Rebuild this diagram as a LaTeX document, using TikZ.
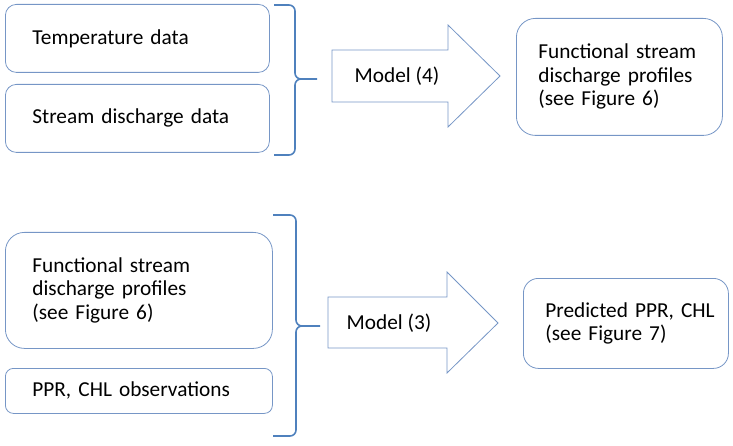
\documentclass[tikz,border=0pt]{standalone}
\usepackage{fontspec}
\setmainfont{Carlito}
\definecolor{boxblue}{RGB}{118,150,198}
\definecolor{braceblue}{RGB}{79,129,189}
\tikzset{
  databox/.style={draw=boxblue, line width=0.8pt, rounded corners=#1, align=left,
    font=\fontsize{21.3pt}{23.5pt}\selectfont, anchor=north west, inner ysep=0pt},
  bigarrow/.style={draw=boxblue, line width=0.8pt, line join=miter},
  brace/.style={draw=braceblue, line width=1.6pt},
  lbl/.style={font=\fontsize{21.3pt}{23.5pt}\selectfont, inner sep=0pt}
}
\begin{document}
\begin{tikzpicture}
    \useasboundingbox (0pt,0pt) rectangle (733pt,-446pt);
    % inputs of model (4)
    \node[databox=11pt, inner xsep=27pt, text width=210pt, minimum height=68pt] (temp)
        at (5pt,-4pt) {Temperature data};
    \node[databox=11pt, inner xsep=27pt, text width=210pt, minimum height=68pt] (disch)
        at (5pt,-84pt) {Stream discharge data};
    \draw[brace] (274pt,-5pt) -- (289pt,-5pt) to[out=0,in=90] (295pt,-11pt) -- (295pt,-73pt)
        to[out=-90,in=180] (301pt,-79pt) -- (317pt,-79pt);
    \draw[brace] (301pt,-79pt) to[out=180,in=90] (295pt,-85pt) -- (295pt,-149pt)
        to[out=-90,in=0] (289pt,-155pt) -- (274pt,-155pt);
    \draw[bigarrow] (332pt,-50pt) -- (448pt,-50pt) -- (448pt,-25pt) -- (500pt,-76pt)
        -- (448pt,-127pt) -- (448pt,-102pt) -- (332pt,-102pt) -- cycle;
    \node[lbl] (model4) at (397pt,-76pt) {Model (4)};
    \node[databox=19pt, inner xsep=22pt, text width=162pt, minimum height=117pt] (profiles)
        at (516pt,-18pt) {Functional stream\\discharge profiles\\(see Figure 6)};
    % inputs of model (3)
    \node[databox=19pt, inner xsep=27pt, text width=213pt, minimum height=116pt] (profilesin)
        at (5pt,-232pt) {Functional stream\\discharge profiles\\(see Figure 6)};
    \node[databox=8pt, inner xsep=27pt, text width=213pt, minimum height=45pt] (obs)
        at (5pt,-368pt) {PPR, CHL observations};
    \draw[brace] (273pt,-215pt) -- (290pt,-215pt) to[out=0,in=90] (296pt,-221pt) -- (296pt,-320pt)
        to[out=-90,in=180] (302pt,-326pt) -- (320pt,-326pt);
    \draw[brace] (302pt,-326pt) to[out=180,in=90] (296pt,-332pt) -- (296pt,-430pt)
        to[out=-90,in=0] (290pt,-436pt) -- (273pt,-436pt);
    \draw[bigarrow] (328pt,-297pt) -- (447pt,-297pt) -- (447pt,-272pt) -- (498pt,-323pt)
        -- (447pt,-373pt) -- (447pt,-348pt) -- (328pt,-348pt) -- cycle;
    \node[lbl] (model3) at (389pt,-323pt) {Model (3)};
    \node[databox=15pt, inner xsep=22pt, text width=161pt, minimum height=90pt] (predicted)
        at (523pt,-278pt) {\mbox{Predicted PPR, CHL}\\(see Figure 7)};
\end{tikzpicture}
\end{document}
